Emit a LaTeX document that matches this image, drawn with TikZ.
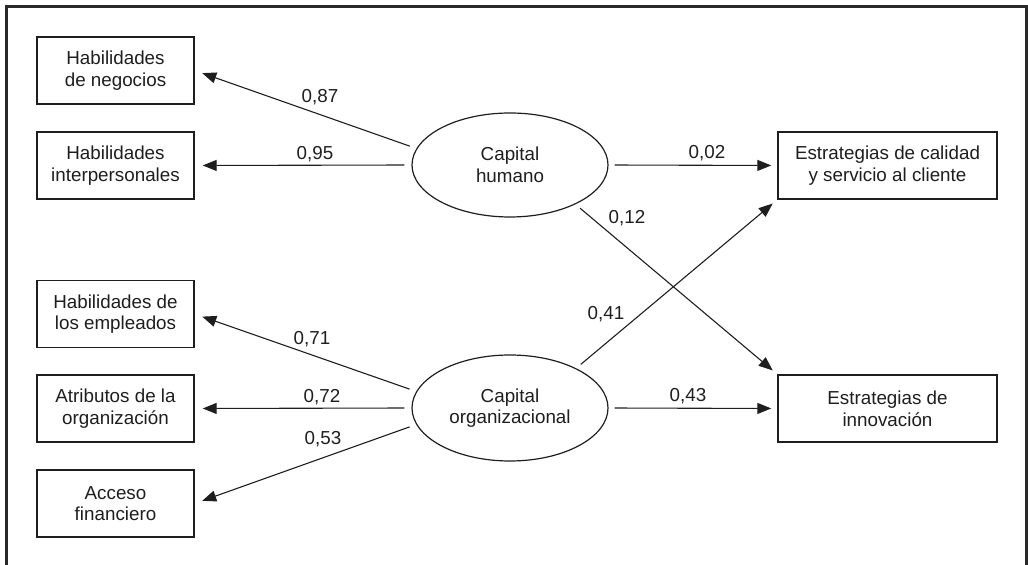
\documentclass[tikz,border=0pt]{standalone}
\usepackage{fontspec}
\setmainfont{Liberation Sans}
\usetikzlibrary{arrows.meta,shapes.geometric,calc}
\definecolor{ink}{HTML}{1E1E1E}
\begin{document}
\begin{tikzpicture}[x=0.5pt,y=-0.5pt,
  box/.style={draw=ink, line width=0.7pt, minimum width=78.5pt, minimum height=33.5pt, align=center, inner sep=0pt, font=\fontsize{9.4}{10.8}\selectfont, text=ink},
  lat/.style={ellipse, draw=ink, line width=0.6pt, minimum width=98pt, minimum height=52pt, align=center, inner sep=0pt, font=\fontsize{9.4}{10.8}\selectfont, text=ink},
  arr/.style={-{Triangle[length=7pt,width=5.5pt]}, line width=0.55pt, draw=ink, shorten <=3.5pt, shorten >=4pt},
  coef/.style={font=\fontsize{9.4}{10}\selectfont, text=ink, inner sep=0pt}]
\useasboundingbox (0,0) rectangle (1028,565);
\draw[line width=1.5pt, draw=ink!95] (6.5,566) -- (6.5,7) -- (1026,7) -- (1026,566);

\node[box] (b1) at (115.5,70.5) {Habilidades\\de negocios};
\node[box] (b2) at (115.5,165.5) {Habilidades\\interpersonales};
\node[box] (b3) at (115.5,314) {Habilidades de\\los empleados};
\node[box] (b4) at (115.5,408.5) {Atributos de la\\organización};
\node[box] (b5) at (115.5,503.5) {Acceso\\financiero};
\node[box, minimum width=109.5pt] (cal) at (887.5,165.5) {Estrategias de calidad\\y servicio al cliente};
\node[box, minimum width=109.5pt] (inn) at (887.5,408.5) {Estrategias de\\innovación};

\node[lat] (hum) at (510,165) {Capital\\humano};
\node[lat, minimum height=53pt] (org) at (510,408) {Capital\\organizacional};

\draw[arr] (hum.170) -- (b1.east);
\draw[arr] (hum.west) -- (b2.east);
\draw[arr, shorten <=3pt, shorten >=3pt] (hum.east) -- (cal.west);
\draw[arr, shorten <=3pt, shorten >=3pt] (hum.-31) -- (inn.north west);
\draw[arr, shorten <=3pt, shorten >=3pt] (org.31) -- (cal.south west);
\draw[arr, shorten <=3pt, shorten >=3pt] (org.east) -- (inn.west);
\draw[arr] (org.170) -- (b3.east);
\draw[arr] (org.west) -- (b4.east);
\draw[arr] (org.190) -- (b5.east);

\node[coef] (c87) at (320,97) {0,87};
\node[coef] (c95) at (315,154) {0,95};
\node[coef] (c02) at (707,153) {0,02};
\node[coef] (c12) at (627,218) {0,12};
\node[coef] (c41) at (606,314) {0,41};
\node[coef] (c71) at (312,339) {0,71};
\node[coef] (c72) at (322,397) {0,72};
\node[coef] (c53) at (323,439) {0,53};
\node[coef] (c43) at (688,396) {0,43};
\end{tikzpicture}
\end{document}
